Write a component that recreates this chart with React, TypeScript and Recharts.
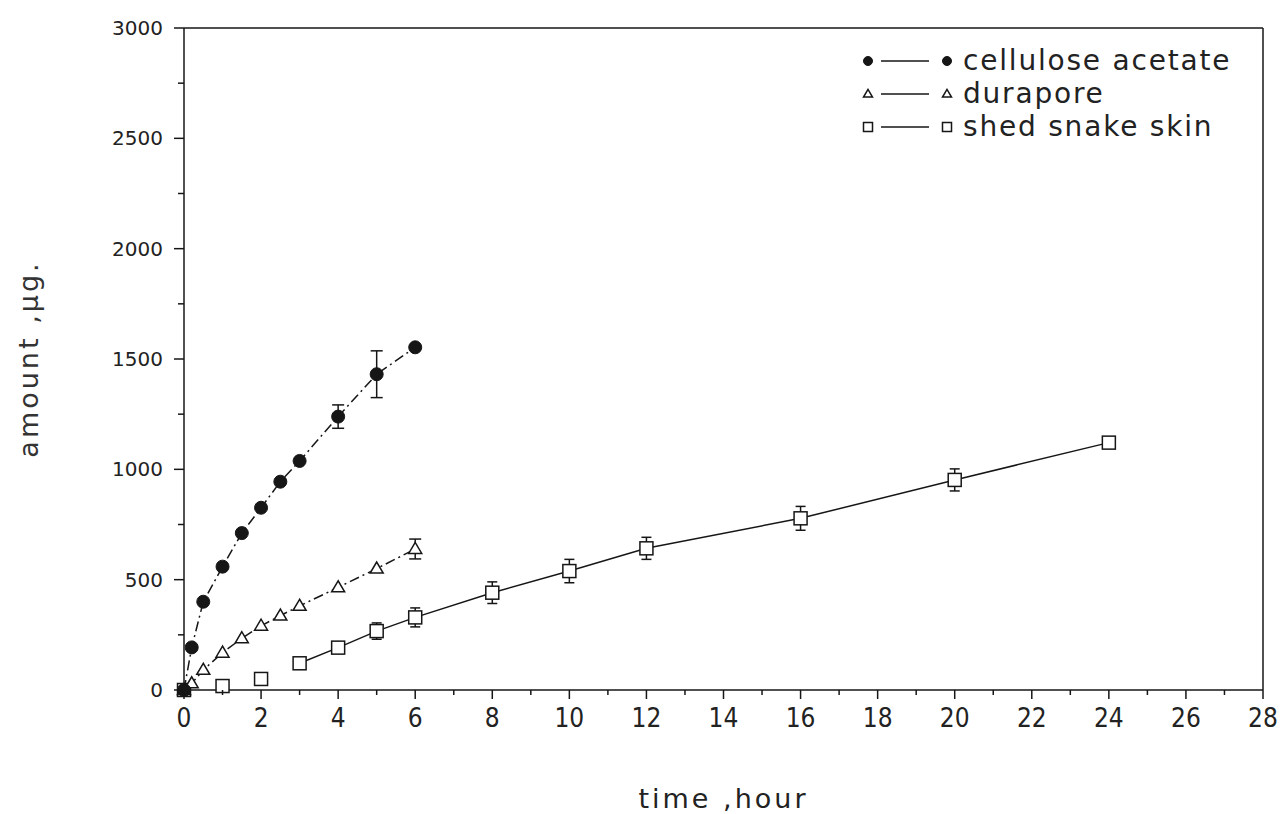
import React from 'react';
import { LineChart, Line, XAxis, YAxis, ErrorBar, ReferenceLine, Label } from 'recharts';

// cellulose acetate
const caTime = [0, 0.2, 0.5, 1, 1.5, 2, 2.5, 3, 4, 5, 6];
const caAmount = [0, 193, 400, 559, 711, 826, 944, 1038, 1239, 1431, 1553];
const caErrTime = [4, 5];
const caErr = [53, 106];

// durapore
const duraTime = [0, 0.2, 0.5, 1, 1.5, 2, 2.5, 3, 4, 5, 6];
const duraAmount = [0, 30, 91, 169, 234, 291, 337, 381, 465, 550, 639];
const duraErrTime = [6];
const duraErr = [45];

// shed snake skin (line drawn from 3 h on)
const snakeTime = [0, 1, 2, 3, 4, 5, 6, 8, 10, 12, 16, 20, 24];
const snakeAmount = [0, 18, 50, 121, 192, 267, 329, 441, 539, 642, 778, 952, 1121];
const snakeErrTime = [5, 6, 8, 10, 12, 16, 20];
const snakeErr = [37, 43, 49, 53, 50, 54, 50];
const snakeLineFrom = 3;

const seriesNames = ['cellulose acetate', 'durapore', 'shed snake skin'];

const xTicks = [0, 1, 2, 3, 4, 5, 6, 7, 8, 9, 10, 11, 12, 13, 14, 15, 16, 17, 18, 19, 20, 21, 22, 23, 24, 25, 26, 27, 28];
const yTicks = [0, 250, 500, 750, 1000, 1250, 1500, 1750, 2000, 2250, 2500, 2750, 3000];

const INK = '#161616';
const roundFont = "'DejaVu Sans', sans-serif";
const narrowFont = "'Liberation Sans Narrow', 'DejaVu Sans Condensed', sans-serif";

const rows = (t: number[], v: number[]) => t.map((x, i) => ({ x, y: v[i] }));
const errRows = (t: number[], v: number[], et: number[], e: number[]) =>
  et.map((x, i) => ({ x, y: v[t.indexOf(x)], err: e[i] }));

const caData = rows(caTime, caAmount);
const duraData = rows(duraTime, duraAmount);
const snakeData = rows(snakeTime, snakeAmount);
const snakeLineData = snakeData.filter((d) => d.x >= snakeLineFrom);

function Circle({ cx, cy, r = 6.5 }: any) {
  return <circle cx={cx} cy={cy} r={r} fill={INK} stroke={INK} strokeWidth={1} />;
}
function Triangle({ cx, cy, s = 13 }: any) {
  const h = s * 0.85;
  return (
    <polygon
      points={`${cx},${cy - h * 0.6} ${cx - s / 2},${cy + h * 0.4} ${cx + s / 2},${cy + h * 0.4}`}
      fill="#fff"
      stroke={INK}
      strokeWidth={1.5}
    />
  );
}
function Square({ cx, cy, s = 13 }: any) {
  return <rect x={cx - s / 2} y={cy - s / 2} width={s} height={s} fill="#fff" stroke={INK} strokeWidth={1.5} />;
}

const XTick = ({ x, y, payload }: any) => {
  const major = payload.value % 2 === 0;
  return (
    <g>
      <line x1={x} x2={x} y1={y} y2={y + (major ? 9 : 5)} stroke={INK} strokeWidth={1.5} />
      {major && (
        <text x={x} y={y + 37} textAnchor="middle" fontFamily={narrowFont} fontSize={26} fill="#222">
          {payload.value}
        </text>
      )}
    </g>
  );
};

const YTick = ({ x, y, payload }: any) => {
  const major = payload.value % 500 === 0;
  return (
    <g>
      <line x1={x - (major ? 10 : 6)} x2={x} y1={y} y2={y} stroke={INK} strokeWidth={1.5} />
      {major && (
        <text x={x - 21} y={y} dy={7} textAnchor="end" fontFamily={roundFont} fontSize={20} fill="#222">
          {payload.value}
        </text>
      )}
    </g>
  );
};

function LegendBox() {
  const rowY = [61, 94, 127];
  const marks = [
    (cx: number, cy: number) => <Circle cx={cx} cy={cy} r={4.5} />,
    (cx: number, cy: number) => <Triangle cx={cx} cy={cy} s={9} />,
    (cx: number, cy: number) => <Square cx={cx} cy={cy} s={9} />,
  ];
  return (
    <svg width={1284} height={814} style={{ position: 'absolute', left: 0, top: 0, pointerEvents: 'none' }}>
      {seriesNames.map((name, i) => (
        <g key={name}>
          {marks[i](868, rowY[i])}
          <line x1={881} x2={929} y1={rowY[i]} y2={rowY[i]} stroke={INK} strokeWidth={1.5} />
          {marks[i](947, rowY[i])}
          <text x={963} y={rowY[i] + 9} fontFamily={roundFont} fontSize={28} letterSpacing={1.8} fill="#222">
            {name}
          </text>
        </g>
      ))}
    </svg>
  );
}

export default function App() {
  return (
    <div style={{ position: 'absolute', left: 0, top: 0, width: 1284, height: 814, background: '#fff' }}>
      <LineChart width={1284} height={814} margin={{ top: 28, right: 21, bottom: 0, left: 0 }}>
        <XAxis
          type="number"
          dataKey="x"
          domain={[0, 28]}
          ticks={xTicks}
          interval={0}
          height={124}
          tickSize={0}
          tickMargin={0}
          tickLine={false}
          axisLine={{ stroke: INK, strokeWidth: 1.5 }}
          tick={<XTick />}
        >
          <Label
            content={({ viewBox }: any) => (
              <text
                x={viewBox.x + viewBox.width / 2}
                y={808}
                textAnchor="middle"
                fontFamily={roundFont}
                fontSize={27}
                letterSpacing={3}
                fill="#222"
              >
                time ,hour
              </text>
            )}
          />
        </XAxis>
        <YAxis
          type="number"
          dataKey="y"
          domain={[0, 3000]}
          ticks={yTicks}
          interval={0}
          width={184}
          tickSize={0}
          tickMargin={0}
          tickLine={false}
          axisLine={{ stroke: INK, strokeWidth: 1.5 }}
          tick={<YTick />}
        >
          <Label
            content={({ viewBox }: any) => {
              const cx = 30;
              const cy = viewBox.y + viewBox.height / 2;
              return (
                <text
                  x={cx}
                  y={cy}
                  transform={`rotate(-90 ${cx} ${cy})`}
                  textAnchor="middle"
                  dominantBaseline="middle"
                  fontFamily={roundFont}
                  fontSize={27}
                  letterSpacing={3}
                  fill="#333"
                >
                  amount ,μg.
                </text>
              );
            }}
          />
        </YAxis>
        <ReferenceLine y={3000} stroke={INK} strokeWidth={1.5} />
        <ReferenceLine x={28} stroke={INK} strokeWidth={1.5} />

        {/* connecting lines */}
        <Line data={caData} dataKey="y" stroke={INK} strokeWidth={1.5} strokeDasharray="10 4 2 4" dot={false} activeDot={false} isAnimationActive={false} />
        <Line data={duraData} dataKey="y" stroke={INK} strokeWidth={1.5} strokeDasharray="10 4 2 4" dot={false} activeDot={false} isAnimationActive={false} />
        <Line data={snakeLineData} dataKey="y" stroke={INK} strokeWidth={1.5} dot={false} activeDot={false} isAnimationActive={false} />

        {/* error bars */}
        <Line data={errRows(caTime, caAmount, caErrTime, caErr)} dataKey="y" stroke="none" dot={false} activeDot={false} isAnimationActive={false}>
          <ErrorBar dataKey="err" width={6} stroke={INK} strokeWidth={1.5} direction="y" isAnimationActive={false} />
        </Line>
        <Line data={errRows(duraTime, duraAmount, duraErrTime, duraErr)} dataKey="y" stroke="none" dot={false} activeDot={false} isAnimationActive={false}>
          <ErrorBar dataKey="err" width={6} stroke={INK} strokeWidth={1.5} direction="y" isAnimationActive={false} />
        </Line>
        <Line data={errRows(snakeTime, snakeAmount, snakeErrTime, snakeErr)} dataKey="y" stroke="none" dot={false} activeDot={false} isAnimationActive={false}>
          <ErrorBar dataKey="err" width={5} stroke={INK} strokeWidth={1.5} direction="y" isAnimationActive={false} />
        </Line>

        {/* markers */}
        <Line data={snakeData} dataKey="y" stroke="none" activeDot={false} isAnimationActive={false}
          dot={(p: any) => <Square key={`s${p.index}`} cx={p.cx} cy={p.cy} />} />
        <Line data={duraData} dataKey="y" stroke="none" activeDot={false} isAnimationActive={false}
          dot={(p: any) => <Triangle key={`d${p.index}`} cx={p.cx} cy={p.cy} />} />
        <Line data={caData} dataKey="y" stroke="none" activeDot={false} isAnimationActive={false}
          dot={(p: any) => <Circle key={`c${p.index}`} cx={p.cx} cy={p.cy} />} />
      </LineChart>
      <LegendBox />
    </div>
  );
}
